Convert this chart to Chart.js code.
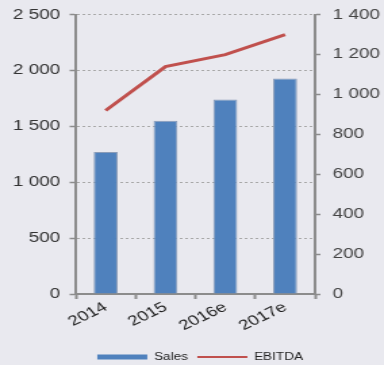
<!DOCTYPE html>
<html>
<head>
<meta charset="utf-8">
<script src="https://cdn.jsdelivr.net/npm/chart.js@4/dist/chart.umd.min.js"></script>
<style>
  html, body { margin: 0; padding: 0; background: #e9e9ef; overflow: hidden; }
  #wrap { width: 284px; height: 365px; transform: scaleX(1.352); transform-origin: 0 0; }
  canvas { display: block; }
</style>
</head>
<body>
<div id="wrap"><canvas id="chart" width="284" height="365"></canvas></div>
<script>
// Sales (left axis, bars) and EBITDA (right axis, line)
const years = ['2014', '2015', '2016e', '2017e'];
const sales = [1270, 1550, 1740, 1930];
const ebitda = [920, 1140, 1200, 1300];
const salesTicks = [0, 500, 1000, 1500, 2000, 2500];
const ebitdaTicks = [0, 200, 400, 600, 800, 1000, 1200, 1400];

const fmt = v => String(v).replace(/\B(?=(\d{3})+(?!\d))/g, ' ');
const axisGrey = '#8c8c8c';
const FONT = 'Liberation Sans, Arial, sans-serif';

// let the layout padding alone decide where the plot area starts
const noScalePad = s => { s.paddingTop = 0; s.paddingBottom = 0; };

new Chart(document.getElementById('chart'), {
  data: {
    labels: years,
    datasets: [
      {
        type: 'line',
        label: 'EBITDA',
        data: ebitda,
        yAxisID: 'y1',
        borderColor: '#c0504d',
        backgroundColor: '#c0504d',
        borderWidth: 3,
        pointRadius: 0,
        tension: 0,
        order: 0
      },
      {
        type: 'bar',
        label: 'Sales',
        data: sales,
        yAxisID: 'y',
        backgroundColor: '#4f81bd',
        borderColor: '#8a9cb8',
        borderWidth: 1,
        barPercentage: 0.4,
        categoryPercentage: 1,
        order: 1
      }
    ]
  },
  options: {
    responsive: false,
    animation: false,
    layout: { padding: { top: 14.7, left: 6, right: -6, bottom: -7 } },
    plugins: {
      tooltip: { enabled: false },
      legend: {
        position: 'bottom',
        reverse: true,
        labels: {
          usePointStyle: true,
          pointStyleWidth: 37,
          boxHeight: 5,
          padding: 7,
          color: '#222',
          font: { family: FONT, size: 10 },
          generateLabels(chart) {
            const items = Chart.defaults.plugins.legend.labels.generateLabels(chart);
            items.forEach(it => {
              if (it.text === 'Sales') {
                it.pointStyle = 'rect';
                it.lineWidth = 0;
                it.fillStyle = '#4f81bd';
                it.strokeStyle = '#4f81bd';
              } else {
                it.pointStyle = 'line';
                it.lineWidth = 2;
                it.strokeStyle = '#c0504d';
              }
            });
            return items;
          }
        }
      }
    },
    scales: {
      x: {
        offset: true,
        grid: {
          offset: true,
          drawOnChartArea: false,
          drawTicks: true,
          tickLength: 5,
          tickColor: axisGrey,
          tickWidth: 2
        },
        border: { color: axisGrey, width: 2 },
        ticks: {
          color: '#222',
          font: { family: FONT, size: 14 },
          minRotation: 33,
          maxRotation: 33,
          padding: 0
        },
        afterFit(s) { s.height = 51; }
      },
      y: {
        position: 'left',
        min: 0,
        max: 2500,
        afterBuildTicks(s) { s.ticks = salesTicks.map(v => ({ value: v })); },
        grid: {
          color: '#a8a8a8',
          lineWidth: 1,
          tickLength: 4.5,
          tickColor: axisGrey,
          tickWidth: 1.5
        },
        border: { color: axisGrey, width: 2, dash: [2, 2] },
        ticks: {
          color: '#333',
          font: { family: FONT, size: 14 },
          padding: 7,
          callback: v => fmt(v)
        },
        afterFit(s) { s.width = 50; noScalePad(s); }
      },
      y1: {
        position: 'right',
        min: 0,
        max: 1400,
        afterBuildTicks(s) { s.ticks = ebitdaTicks.map(v => ({ value: v })); },
        grid: {
          drawOnChartArea: false,
          tickLength: 4,
          tickColor: axisGrey,
          tickWidth: 1.5
        },
        border: { color: axisGrey, width: 2 },
        ticks: {
          color: '#444',
          font: { family: FONT, size: 14 },
          padding: 9,
          callback: v => fmt(v)
        },
        afterFit(s) { s.width = 57; noScalePad(s); }
      }
    }
  }
});
</script>
</body>
</html>
